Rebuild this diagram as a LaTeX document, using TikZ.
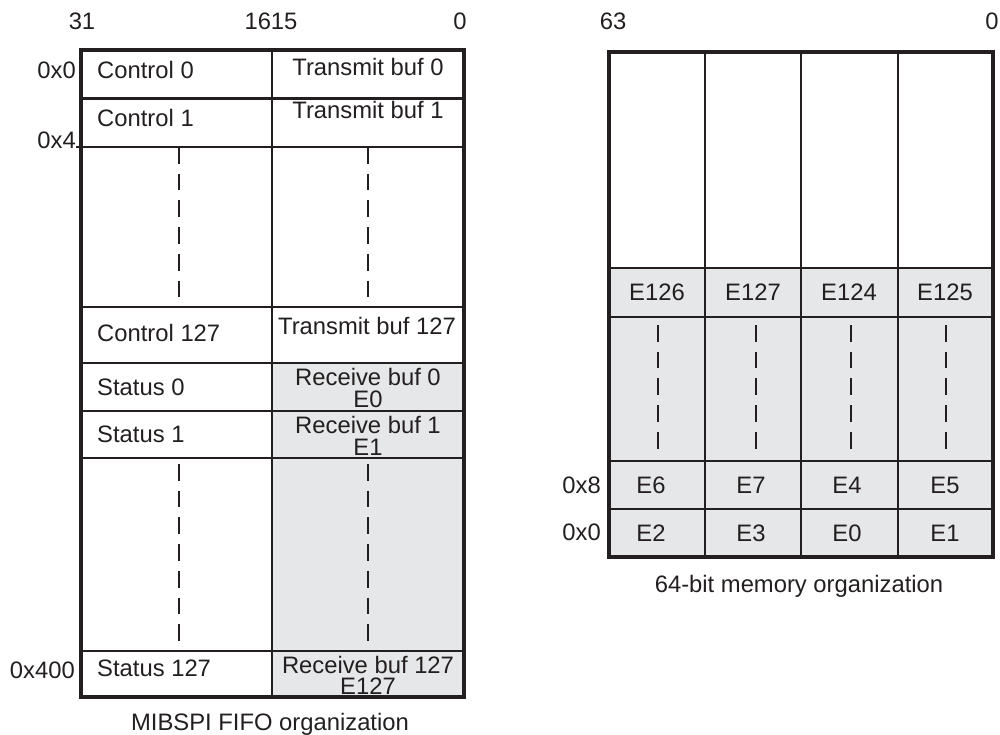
\documentclass[tikz,border=0pt]{standalone}
\usepackage{fontspec}
\setmainfont{Liberation Sans}
\definecolor{cellgray}{HTML}{E6E7E8}
\definecolor{ink}{HTML}{231F20}
\begin{document}
\begin{tikzpicture}[x=1pt,y=-1pt,
  lbl/.style={font=\fontsize{23.8}{25}\selectfont, text=ink, inner sep=0pt},
  twoline/.style={lbl, align=center, font=\fontsize{23.8}{21.5}\selectfont},
  thinline/.style={line width=2.3pt, draw=ink},
  thickline/.style={line width=3.6pt, draw=ink},
  dsh/.style={line width=2pt, draw=ink, dash pattern=on 16.7pt off 10pt}]
\useasboundingbox (0,0) rectangle (1000,734);
% ---------- left table ----------
\fill[cellgray] (272,363) rectangle (464,697);
\foreach \yy in {98.5,307,363,411,458,651} \draw[thinline] (81,\yy) -- (464,\yy);
\draw[thinline] (76,147) -- (464,147);
\draw[thinline] (272,50) -- (272,697);
\draw[dsh] (179,147) -- (179,298);
\draw[dsh] (368,147) -- (368,298);
\draw[dsh] (179,464) -- (179,642);
\draw[dsh] (368,464) -- (368,642);
\draw[thickline] (81,50) rectangle (464,697);
% bit labels
\node[lbl] (b31) at (82,21) {31};
\node[lbl] (b1615) at (271,21) {1615};
\node[lbl] (b0a) at (460,21) {0};
% addresses
\node[lbl,anchor=east] (a0) at (76,70) {0x0};
\node[lbl,anchor=east] (a4) at (76,140) {0x4};
\node[lbl,anchor=east] (a400) at (75,670) {0x400};
% cells
\node[lbl,anchor=west] (c0) at (97,70) {Control 0};
\node[lbl] (t0) at (368,67) {Transmit buf 0};
\node[lbl,anchor=west] (c1) at (97,118) {Control 1};
\node[lbl] (t1) at (368,110) {Transmit buf 1};
\node[lbl,anchor=west] (c127) at (97,333) {Control 127};
\node[lbl] (t127) at (367,326) {Transmit buf 127};
\node[lbl,anchor=west] (s0) at (97,387) {Status 0};
\node[twoline] (r0) at (368,388) {Receive buf 0\\E0};
\node[lbl,anchor=west] (s1) at (97,434) {Status 1};
\node[twoline] (r1) at (368,436) {Receive buf 1\\E1};
\node[lbl,anchor=west] (s127) at (97,668) {Status 127};
\node[twoline] (r127) at (368,675.5) {Receive buf 127\\E127};
\node[lbl,anchor=base] (capL) at (270,730) {MIBSPI FIFO organization};
% ---------- right table ----------
\fill[cellgray] (609,268) rectangle (993,557);
\foreach \yy in {268,317,461,509} \draw[thinline] (609,\yy) -- (993,\yy);
\foreach \xx in {705,801,898} \draw[thinline] (\xx,52) -- (\xx,557);
\foreach \xx in {658,756,851,946} \draw[dsh] (\xx,325) -- (\xx,449);
\draw[thickline] (609,52) rectangle (993,557);
\node[lbl] (b63) at (613,21) {63};
\node[lbl] (b0b) at (992,21) {0};
\node[lbl,anchor=east] (a8) at (601,485) {0x8};
\node[lbl,anchor=east] (a0b) at (601,532) {0x0};
\node[lbl] (e126) at (657,292) {E126};
\node[lbl] (e127) at (753,292) {E127};
\node[lbl] (e124) at (849,292) {E124};
\node[lbl] (e125) at (945,292) {E125};
\node[lbl] (e6) at (651,485) {E6};
\node[lbl] (e7) at (751,485) {E7};
\node[lbl] (e4) at (847,485) {E4};
\node[lbl] (e5) at (945,485) {E5};
\node[lbl] (e2) at (651,533) {E2};
\node[lbl] (e3) at (751,533) {E3};
\node[lbl] (e0) at (847,533) {E0};
\node[lbl] (e1) at (945,533) {E1};
\node[lbl,anchor=base] (capR) at (799,592) {64-bit memory organization};
\end{tikzpicture}
\end{document}
